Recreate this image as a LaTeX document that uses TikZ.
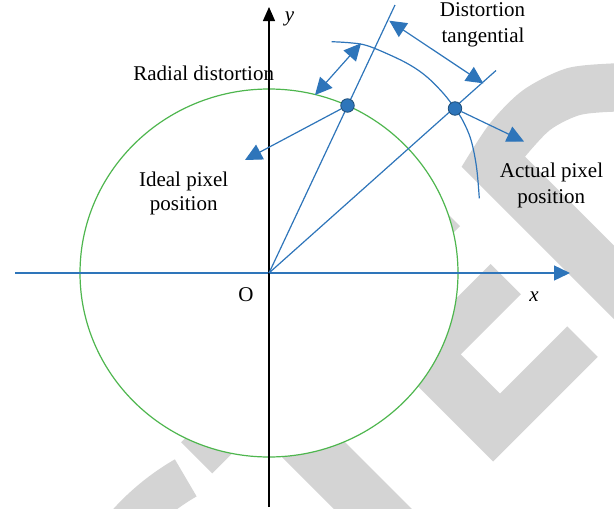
\documentclass[tikz,border=0pt]{standalone}
\usepackage{fontspec}
\setmainfont{Liberation Serif}
\usetikzlibrary{arrows.meta}
\definecolor{lblue}{RGB}{46,117,186}
\definecolor{dblue}{RGB}{31,78,121}
\definecolor{cgreen}{RGB}{78,182,78}
\definecolor{wm}{RGB}{212,212,212}
\begin{document}
\begin{tikzpicture}[x=1pt,y=-1pt,
  bl/.style={draw=lblue, line width=1.2pt},
  tip/.style={-{Triangle[length=17pt,width=16.5pt]}},
  dtip/.style={{Triangle[length=17pt,width=16.5pt]}-{Triangle[length=17pt,width=16.5pt]}},
  lab/.style={font=\fontsize{21}{25}\selectfont, inner sep=0pt, anchor=base},
  dot/.style={circle, fill=lblue, draw=dblue, line width=0.8pt, minimum size=13.5pt, inner sep=0pt}]
\useasboundingbox (0,0) rectangle (614,509);
% watermark
\begin{scope}
\clip (0,0) rectangle (614,509);
\fill[wm] plot[smooth] coordinates {(461.7,166.7) (490,123.3) (523.3,90) (566.7,68.3) (614,63.3) (625,64)}
  -- (625,112) -- plot[smooth] coordinates {(614,111.7) (580,115) (550,130) (525,156.7)}
  -- (625,256.7) -- (625,330) -- cycle;
\fill[wm] (328.8,297.2) -- (430,196) -- (460,226) -- (396.2,289.8) -- (430.55,324.15)
  -- (490.7,264) -- (520.85,294.15) -- (460.7,354.3) -- (499.95,393.55) -- (567.25,326.25)
  -- (597.85,356.85) -- (493.15,461.55) -- cycle;
\fill[wm] (181.2,442.2) -- (212.35,473.35) -- (337.35,348.35) -- (306.2,317.2) -- cycle;
\fill[wm] (237.5,412.5) -- (276.5,373.5) -- (451.5,548.5) -- (412.5,587.5) -- cycle;
\draw[wm, line width=43pt] (303.5,681.8) ++(240:235.5) arc[start angle=240, end angle=190, radius=235.5];
\end{scope}
% circle
\draw[cgreen, line width=1.2pt, fill=white] (269,273) ellipse [x radius=189, y radius=184];
% coordinates
\coordinate (O) at (269,273);
\coordinate (L1) at (395,5);
\coordinate (L2) at (496,70.5);
\coordinate (c1) at (347.5,105.5);
\coordinate (c2) at (455,108.5);
\coordinate (xs) at (15,273);
\coordinate (xt) at (570,273);
\coordinate (ys) at (269,507);
\coordinate (yt) at (269,7);
\coordinate (rA) at (315,95);
\coordinate (rB) at (361,43.3);
\coordinate (tA) at (389.3,20.7);
\coordinate (tB) at (483.3,83.3);
\coordinate (idt) at (245,160);
\coordinate (act) at (524,141.5);
% axes
\draw[draw=lblue, line width=1.4pt, -{Triangle[length=16pt,width=15pt]}] (xs) -- (xt);
\draw[black, line width=1.4pt, -{Triangle[length=14pt,width=12pt]}] (ys) -- (yt);
% rays
\draw[bl] (O) -- (L1);
\draw[bl] (O) -- (L2);
% distorted arc
\draw[bl] plot[smooth, tension=0.6] coordinates {(331.7,41.7) (350,42.8) (366.7,45.5) (390,55) (410,65) (426.7,76.7) (443.3,93.3) (455,108.5) (463,121) (471,140) (476.5,167) (479.3,198.3)};
% dimension arrows
\draw[bl, dtip] (rA) -- (rB);
\draw[bl, dtip] (tA) -- (tB);
% points
\node[dot] (P1) at (c1) {};
\node[dot] (P2) at (c2) {};
\draw[bl, tip] (P1) -- (idt);
\draw[bl, tip] (P2) -- (act);
% labels
\node[lab] (rad) at (203.7,80.7) {Radial distortion};
\node[lab] (dist1) at (482.5,16.7) {Distortion};
\node[lab] (dist2) at (483,42) {tangential};
\node[lab] (ideal1) at (183.7,186) {Ideal pixel};
\node[lab] (ideal2) at (183.7,210) {position};
\node[lab] (act1) at (551.5,177.7) {Actual pixel};
\node[lab] (act2) at (551.3,203) {position};
\node[lab] (olab) at (246,301.7) {O};
\node[lab] (xlab) at (534,301.7) {\itshape x};
\node[lab] (ylab) at (289.5,21.5) {\itshape y};
\end{tikzpicture}
\end{document}
